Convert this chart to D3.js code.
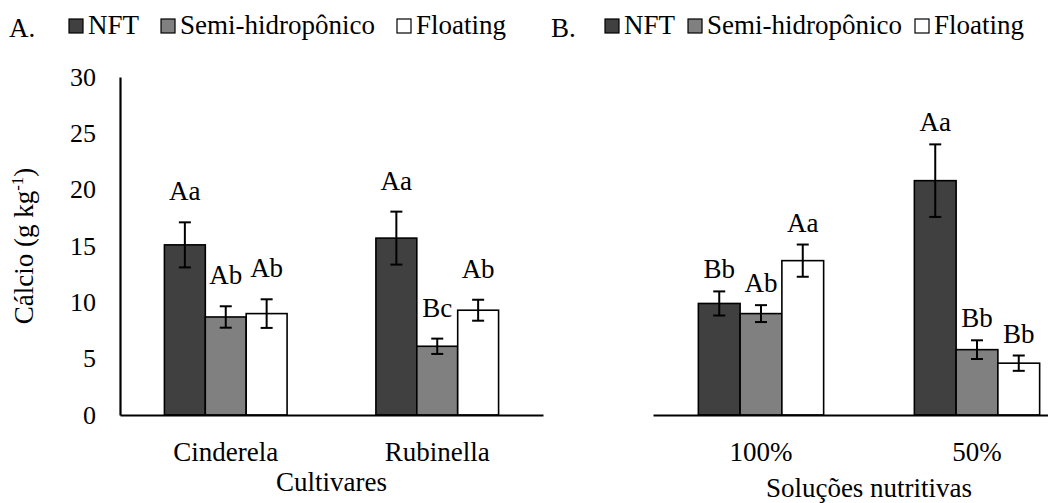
<!DOCTYPE html>
<html>
<head>
<meta charset="utf-8">
<script src="https://cdn.jsdelivr.net/npm/d3@7"></script>
<style>
  html, body { margin: 0; padding: 0; background: #fff; }
</style>
</head>
<body>
<svg id="chart" width="1048" height="503"></svg>
<script>
const FONT = "'Liberation Serif', 'Times New Roman', serif";

// Series shown in both panels
const series = ["NFT", "Semi-hidropônico", "Floating"];
const seriesFill = ["#404040", "#808080", "#ffffff"];

// Panel A: cultivars
const cultivares = ["Cinderela", "Rubinella"];
const calcioA = [
  [15.1, 8.7, 9.0],   // Cinderela
  [15.7, 6.1, 9.3]    // Rubinella
];
const erroA = [
  [2.0, 0.95, 1.27],
  [2.35, 0.68, 0.93]
];
const letrasA = [
  ["Aa", "Ab", "Ab"],
  ["Aa", "Bc", "Ab"]
];

// Panel B: nutrient solutions
const solucoes = ["100%", "50%"];
const calcioB = [
  [9.9, 9.0, 13.7],   // 100%
  [20.8, 5.8, 4.6]    // 50%
];
const erroB = [
  [1.07, 0.75, 1.43],
  [3.22, 0.83, 0.68]
];
const letrasB = [
  ["Bb", "Ab", "Aa"],
  ["Aa", "Bb", "Bb"]
];

const yTicks = [0, 5, 10, 15, 20, 25, 30];

const svg = d3.select("#chart");
svg.append("rect").attr("width", 1048).attr("height", 503).attr("fill", "#fff");

function txt(sel, size) {
  return sel.attr("font-family", FONT).attr("font-size", size).attr("fill", "#000");
}

const y = d3.scaleLinear().domain([0, 30]).range([415, 77]);

// Y axis (panel A only)
const yAxis = d3.axisLeft(y).tickValues(yTicks).tickSize(0).tickPadding(24);
const gy = svg.append("g").attr("transform", "translate(120,0)").call(yAxis);
gy.attr("font-family", FONT).attr("font-size", 26);
gy.select(".domain").attr("stroke", "#000").attr("stroke-width", 2.2);
gy.selectAll("text").attr("fill", "#000");

// Y axis title
const yTitle = txt(svg.append("text"), 27)
  .attr("transform", "translate(33,246) rotate(-90)")
  .attr("text-anchor", "middle");
yTitle.append("tspan").text("Cálcio (g kg");
yTitle.append("tspan").attr("dy", -10).attr("font-size", 17).text("-1");
yTitle.append("tspan").attr("dy", 10).text(")");

function drawPanel(opts) {
  const { cats, values, errs, labels, x0, x1, xTitle, xTitleY, labelGap } = opts;
  const x = d3.scaleBand().domain(cats).range([x0, x1]).paddingInner(0.42).paddingOuter(0.21);
  const xs = d3.scaleBand().domain(series).range([0, x.bandwidth()]);
  const g = svg.append("g");

  cats.forEach((c, ci) => {
    series.forEach((s, si) => {
      const v = values[ci][si];
      const e = errs[ci][si];
      const bx = x(c) + xs(s);
      const cx = bx + xs.bandwidth() / 2;
      g.append("rect")
        .attr("x", bx).attr("y", y(v))
        .attr("width", xs.bandwidth()).attr("height", y(0) - y(v))
        .attr("fill", seriesFill[si]).attr("stroke", "#000").attr("stroke-width", 1.6);
      // error bar
      const eb = g.append("g").attr("stroke", "#000").attr("stroke-width", 2);
      eb.append("line").attr("x1", cx).attr("x2", cx).attr("y1", y(v + e)).attr("y2", y(v - e));
      eb.append("line").attr("x1", cx - 6).attr("x2", cx + 6).attr("y1", y(v + e)).attr("y2", y(v + e));
      eb.append("line").attr("x1", cx - 6).attr("x2", cx + 6).attr("y1", y(v - e)).attr("y2", y(v - e));
      // significance letters
      txt(g.append("text"), 27)
        .attr("x", cx).attr("y", y(v + e) - labelGap)
        .attr("text-anchor", "middle")
        .text(labels[ci][si]);
    });
  });

  const xAxis = d3.axisBottom(x).tickSize(0).tickPadding(27);
  const gx = svg.append("g").attr("transform", `translate(0,${y(0)})`).call(xAxis);
  gx.attr("font-family", FONT).attr("font-size", 27);
  gx.select(".domain").attr("stroke", "#000").attr("stroke-width", 2.2);
  gx.selectAll("text").attr("fill", "#000");

  txt(svg.append("text"), 27)
    .attr("x", (x0 + x1) / 2).attr("y", xTitleY)
    .attr("text-anchor", "middle")
    .text(xTitle);
}

drawPanel({ cats: cultivares, values: calcioA, errs: erroA, labels: letrasA,
  x0: 120, x1: 543, xTitle: "Cultivares", xTitleY: 491, labelGap: 22 });
drawPanel({ cats: solucoes, values: calcioB, errs: erroB, labels: letrasB,
  x0: 653, x1: 1085, xTitle: "Soluções nutritivas", xTitleY: 497, labelGap: 13 });

// Legends
function drawLegend(tag, tagX, startX, gap) {
  txt(svg.append("text"), 27).attr("x", tagX).attr("y", 37).text(tag);
  let cx = startX;
  series.forEach((s, i) => {
    svg.append("rect").attr("x", cx).attr("y", 19).attr("width", 14).attr("height", 14)
      .attr("fill", seriesFill[i]).attr("stroke", "#000").attr("stroke-width", 1.2);
    const t = txt(svg.append("text"), 27).attr("x", cx + 19).attr("y", 34).text(s);
    cx += 19 + t.node().getComputedTextLength() + gap;
  });
}
drawLegend("A.", 9, 69, 22);
drawLegend("B.", 551, 605, 13);
</script>
</body>
</html>
